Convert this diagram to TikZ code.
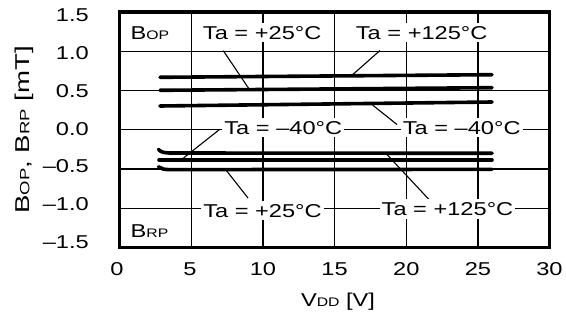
\documentclass[tikz,border=0pt]{standalone}
\usepackage{fontspec}
\setmainfont{Liberation Sans}
\usepackage{graphicx}
\newcommand{\st}[1]{\scalebox{1.27}[1]{#1}}
\newcommand{\sbc}[1]{{\fontsize{12.4}{14}\selectfont #1}}
\newcommand{\sbcy}[1]{{\fontsize{13.4}{15}\selectfont #1}}
\begin{document}
\begin{tikzpicture}[x=1pt,y=-1pt,
  lbl/.style={fill=white, inner xsep=2pt, inner ysep=3pt, text height=13.5pt, text depth=0pt, font=\fontsize{18.6}{20}\selectfont},
  ticklbl/.style={inner sep=0pt, text height=13.5pt, text depth=0pt, font=\fontsize{18.6}{20}\selectfont},
  gridline/.style={line width=1.3pt},
  curve/.style={line width=3.6pt, line cap=round},
  leader/.style={line width=1.1pt},
  frm/.style={line width=3.2pt}]
\useasboundingbox (0,0) rectangle (566,321);
% grid
\foreach \x in {191.2,262.9,334.6,406.3,478.0} \draw[gridline] (\x,12) -- (\x,247.5);
\foreach \y in {51.25,90.5,129.75,169,208.25} \draw[gridline] (119.5,\y) -- (549.7,\y);
% curves B_OP
\draw[curve] (160,77.3) -- (492,74.7);
\draw[curve] (160,90.3) -- (492,87.7);
\draw[curve] (160,106) -- (492,102);
% curves B_RP
\draw[curve] (158.5,149.5) .. controls (161.5,152.5) and (164,153) .. (172,153) -- (492,153.3);
\draw[curve] (159,160) -- (492,160);
\draw[curve] (158.5,166.8) .. controls (161.5,169.3) and (164,169.6) .. (172,169.6) -- (492,169.4);
% leader end points
\coordinate (a1) at (223.3,50.7);  \coordinate (a2) at (249.3,89.3);
\coordinate (b1) at (380,50.5);    \coordinate (b2) at (351.7,75.5);
\coordinate (c1) at (370,103);     \coordinate (c2) at (397,124.5);
\coordinate (d1) at (219.5,129.5); \coordinate (d2) at (181,160);
\coordinate (e1) at (226,170);     \coordinate (e2) at (248,198);
\coordinate (f1) at (386,153.5);   \coordinate (f2) at (429,199.5);
\draw[leader] (a1) -- (a2);
\draw[leader] (b1) -- (b2);
\draw[leader] (c1) -- (c2);
\draw[leader] (d1) -- (d2);
\draw[leader] (e1) -- (e2);
\draw[leader] (f1) -- (f2);
% labels
\node[lbl] (t25) at (262.2,32.5) {\st{Ta = +25°C}};
\node[lbl] (t125) at (421.7,32.5) {\st{Ta = +125°C}};
\node[lbl] (m40l) at (283.3,127.5) {\st{Ta = –40°C}};
\node[lbl] (m40r) at (461.7,127.5) {\st{Ta = –40°C}};
\node[lbl] (b25) at (262.5,210.5) {\st{Ta = +25°C}};
\node[lbl] (b125) at (447.5,209) {\st{Ta = +125°C}};
\node[ticklbl, anchor=west] (bop) at (130.5,32.5) {\st{B\sbc{OP}}};
\node[ticklbl, anchor=west] (brp) at (130.5,231) {\st{B\sbc{RP}}};
% frame
\draw[frm] (119.5,12) rectangle (549.7,247.5);
% y tick labels
\node[ticklbl, anchor=east] (y1) at (89,15.1) {\st{1.5}};
\node[ticklbl, anchor=east] (y2) at (89,52.8) {\st{1.0}};
\node[ticklbl, anchor=east] (y3) at (89,90.6) {\st{0.5}};
\node[ticklbl, anchor=east] (y4) at (89,128.3) {\st{0.0}};
\node[ticklbl, anchor=east] (y5) at (89,166.0) {\st{–0.5}};
\node[ticklbl, anchor=east] (y6) at (89,203.8) {\st{–1.0}};
\node[ticklbl, anchor=east] (y7) at (89,241.5) {\st{–1.5}};
% x tick labels
\node[ticklbl] (x0) at (117,269) {\st{0}};
\node[ticklbl] (x1) at (190,269) {\st{5}};
\node[ticklbl] (x2) at (262.9,269) {\st{10}};
\node[ticklbl] (x3) at (334.6,269) {\st{15}};
\node[ticklbl] (x4) at (406.3,269) {\st{20}};
\node[ticklbl] (x5) at (478,269) {\st{25}};
\node[ticklbl] (x6) at (549.5,269) {\st{30}};
% axis titles
\node[ticklbl] (xlab) at (338,300) {\st{V\sbc{DD} [V]}};
\node[inner sep=0pt, text height=14.5pt, text depth=0pt, font=\fontsize{20}{22}\selectfont, rotate=90] (ylab) at (22,130) {\scalebox{1.38}[1]{B\sbcy{OP}, B\sbcy{RP} [mT]}};
\end{tikzpicture}
\end{document}
